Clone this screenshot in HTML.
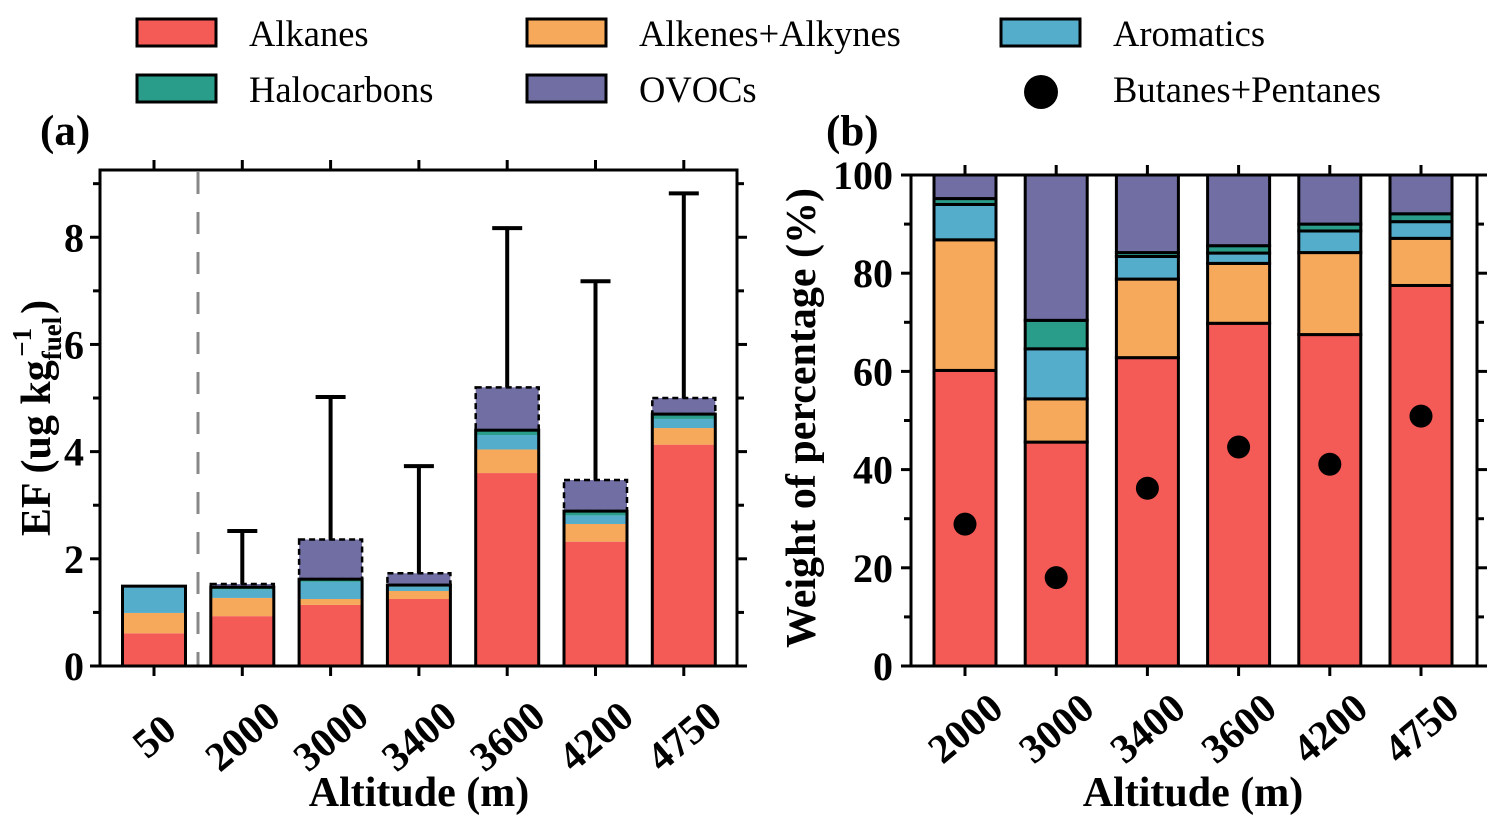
<!DOCTYPE html>
<html><head><meta charset="utf-8"><style>
html,body{margin:0;padding:0;background:#fff}
svg{display:block;font-family:"Liberation Serif",serif}
</style></head><body>
<svg id="chart" width="1506" height="830" viewBox="0 0 1506 830" xmlns="http://www.w3.org/2000/svg">
<g id="legend" font-size="36.5">
 <g><rect x="137" y="19" width="79" height="27" fill="#F45A56" stroke="#000" stroke-width="3"/><text x="249" y="46">Alkanes</text></g>
 <g><rect x="527" y="19" width="79" height="27" fill="#F6A95A" stroke="#000" stroke-width="3"/><text x="639" y="46">Alkenes+Alkynes</text></g>
 <g><rect x="1001" y="19" width="79" height="27" fill="#54ADCB" stroke="#000" stroke-width="3"/><text x="1113" y="46">Aromatics</text></g>
 <g><rect x="137" y="75" width="79" height="27" fill="#2A9D8A" stroke="#000" stroke-width="3"/><text x="249" y="102">Halocarbons</text></g>
 <g><rect x="527" y="75" width="79" height="27" fill="#706EA2" stroke="#000" stroke-width="3"/><text x="639" y="102">OVOCs</text></g>
 <g><circle cx="1041" cy="92" r="17" fill="#000"/><text x="1113" y="102">Butanes+Pentanes</text></g>
</g>
<text x="40" y="145" font-size="43" font-weight="bold">(a)</text>
<text x="826" y="145" font-size="43" font-weight="bold">(b)</text>
<g id="pa"></g>
<g id="pb"></g>
</svg>
<script>
const colors=["#F45A56","#F6A95A","#54ADCB","#2A9D8A","#706EA2"];
// Panel (a) data
const catsA=["50","2000","3000","3400","3600","4200","4750"];
const alkA=[0.61,0.93,1.14,1.25,3.60,2.32,4.13];
const eneA=[0.38,0.34,0.11,0.15,0.44,0.33,0.31];
const aroA=[0.50,0.16,0.32,0.08,0.27,0.16,0.17];
const halA=[0.00,0.04,0.05,0.03,0.09,0.08,0.09];
const ovoA=[0.00,0.06,0.74,0.22,0.80,0.58,0.30];
const errA=[null,2.52,5.02,3.73,8.17,7.18,8.82];
const ticksA=[0,2,4,6,8];
// Panel (b) data
const catsB=["2000","3000","3400","3600","4200","4750"];
const alkB=[60.2,45.6,62.8,69.8,67.5,77.5];
const eneB=[26.6,8.8,16.0,12.2,16.7,9.6];
const aroB=[7.2,10.2,4.6,2.1,4.4,3.4];
const halB=[1.2,5.8,0.8,1.5,1.4,1.6];
const dotB=[28.9,18.0,36.2,44.6,41.1,50.9];
const ticksB=[0,20,40,60,80,100];

const NS="http://www.w3.org/2000/svg";
function mk(p,tag,at){const e=document.createElementNS(NS,tag);for(const k in at)e.setAttribute(k,at[k]);p.appendChild(e);return e;}

// ---------- Panel a ----------
const pa=document.getElementById('pa');
const A={l:100,r:737,t:170,b:666,ymax:9.255,x0:154,dx:88.3,bw:63};
const ya=v=>A.b-v/A.ymax*(A.b-A.t);
const xa=i=>A.x0+i*A.dx;
mk(pa,'line',{x1:198,x2:198,y1:172,y2:666,stroke:'#888',"stroke-width":3,"stroke-dasharray":"22,18"});
const segsA=[alkA,eneA,aroA,halA,ovoA];
catsA.forEach((c,i)=>{
  let cum=0;const x=xa(i)-A.bw/2;
  segsA.forEach((s,k)=>{
    const v=s[i];if(v<=0){return;}
    const r=mk(pa,'rect',{x:x,y:ya(cum+v),width:A.bw,height:ya(cum)-ya(cum+v),fill:colors[k]});
    
    
    cum+=v;
  });
  const solid=alkA[i]+eneA[i]+aroA[i]+halA[i];
  const o=mk(pa,'rect',{x:x,y:ya(solid),width:A.bw,height:ya(0)-ya(solid),fill:'none',stroke:'#000','stroke-width':3});
  
  
  if(ovoA[i]>0){
    const d=mk(pa,'rect',{x:x,y:ya(solid+ovoA[i]),width:A.bw,height:ya(solid)-ya(solid+ovoA[i]),fill:'none',stroke:'#000','stroke-width':2.5,'stroke-dasharray':'6,4'});
    
    
  }
  if(errA[i]!=null){
    const top=solid+ovoA[i];
    const e=mk(pa,'path',{d:`M${xa(i)},${ya(top)}V${ya(errA[i])}M${xa(i)-15},${ya(errA[i])}H${xa(i)+15}`,stroke:'#000','stroke-width':4,fill:'none'});
    
    
  }
  mk(pa,'line',{x1:xa(i),x2:xa(i),y1:A.b,y2:A.b+10,stroke:'#000','stroke-width':3});
  mk(pa,'line',{x1:xa(i),x2:xa(i),y1:A.t,y2:A.t-10,stroke:'#000','stroke-width':3});
  const t=mk(pa,'text',{x:xa(i),y:736,'font-size':41,'font-weight':'bold','text-anchor':'middle','dominant-baseline':'central',transform:`rotate(-40 ${xa(i)} 736)`});
  t.textContent=c;
  
  
});
mk(pa,'rect',{x:A.l,y:A.t,width:A.r-A.l,height:A.b-A.t,fill:'none',stroke:'#000','stroke-width':3});
for(let v=0;v<=9;v++){
  const L=(v%2==0)?10:7;
  mk(pa,'line',{x1:A.l-L,x2:A.l,y1:ya(v),y2:ya(v),stroke:'#000','stroke-width':3});
  mk(pa,'line',{x1:A.r,x2:A.r+L,y1:ya(v),y2:ya(v),stroke:'#000','stroke-width':3});
}
ticksA.forEach(v=>{
  const t=mk(pa,'text',{x:84,y:ya(v)+14,'font-size':40,'font-weight':'bold','text-anchor':'end'});
  t.textContent=v;
  
  
});
{
  const t=mk(pa,'text',{x:419,y:806,'font-size':42,'font-weight':'bold','text-anchor':'middle'});
  t.textContent='Altitude (m)';
  
  
  const y=mk(pa,'text',{x:0,y:0,'font-size':42,'font-weight':'bold','text-anchor':'middle',transform:'translate(50 418) rotate(-90)'});
  y.innerHTML='EF (ug kg<tspan font-size="27" dy="11">fuel</tspan><tspan font-size="27" dy="-30" dx="-40">−1</tspan><tspan dy="19" dx="14">)</tspan>';
  
  
}

// ---------- Panel b ----------
const pb=document.getElementById('pb');
const B={l:911,r:1477,t:175,b:666,x0:965,dx:91.2,bw:62};
const yb=v=>B.b-v/100*(B.b-B.t);
const xb=i=>B.x0+i*B.dx;
const segsB=[alkB,eneB,aroB,halB];
catsB.forEach((c,i)=>{
  let cum=0;const x=xb(i)-B.bw/2;
  segsB.forEach((s,k)=>{
    const v=s[i];
    const r=mk(pb,'rect',{x:x,y:yb(cum+v),width:B.bw,height:yb(cum)-yb(cum+v),fill:colors[k],stroke:'#000','stroke-width':3});
    
    
    cum+=v;
  });
  const r=mk(pb,'rect',{x:x,y:yb(100),width:B.bw,height:yb(cum)-yb(100),fill:colors[4],stroke:'#000','stroke-width':3});
  
  
  const d=mk(pb,'circle',{cx:xb(i),cy:yb(dotB[i]),r:11.5,fill:'#000'});
  
  
  mk(pb,'line',{x1:xb(i),x2:xb(i),y1:B.b,y2:B.b+10,stroke:'#000','stroke-width':3});
  mk(pb,'line',{x1:xb(i),x2:xb(i),y1:B.t,y2:B.t-10,stroke:'#000','stroke-width':3});
  const t=mk(pb,'text',{x:xb(i),y:728,'font-size':41,'font-weight':'bold','text-anchor':'middle','dominant-baseline':'central',transform:`rotate(-40 ${xb(i)} 728)`});
  t.textContent=c;
  
  
});
mk(pb,'rect',{x:B.l,y:B.t,width:B.r-B.l,height:B.b-B.t,fill:'none',stroke:'#000','stroke-width':3});
for(let v=0;v<=100;v+=10){
  const L=(v%20==0)?10:7;
  mk(pb,'line',{x1:B.l-L,x2:B.l,y1:yb(v),y2:yb(v),stroke:'#000','stroke-width':3});
  mk(pb,'line',{x1:B.r,x2:B.r+L,y1:yb(v),y2:yb(v),stroke:'#000','stroke-width':3});
}
ticksB.forEach(v=>{
  const t=mk(pb,'text',{x:893,y:yb(v)+14,'font-size':40,'font-weight':'bold','text-anchor':'end'});
  t.textContent=v;
  
  
});
{
  const t=mk(pb,'text',{x:1193,y:806,'font-size':42,'font-weight':'bold','text-anchor':'middle'});
  t.textContent='Altitude (m)';
  
  
  const y=mk(pb,'text',{x:0,y:0,'font-size':42,'font-weight':'bold','text-anchor':'middle',transform:'translate(815 418) rotate(-90)'});
  y.textContent='Weight of percentage (%)';
  
  
}
</script>
</body></html>
